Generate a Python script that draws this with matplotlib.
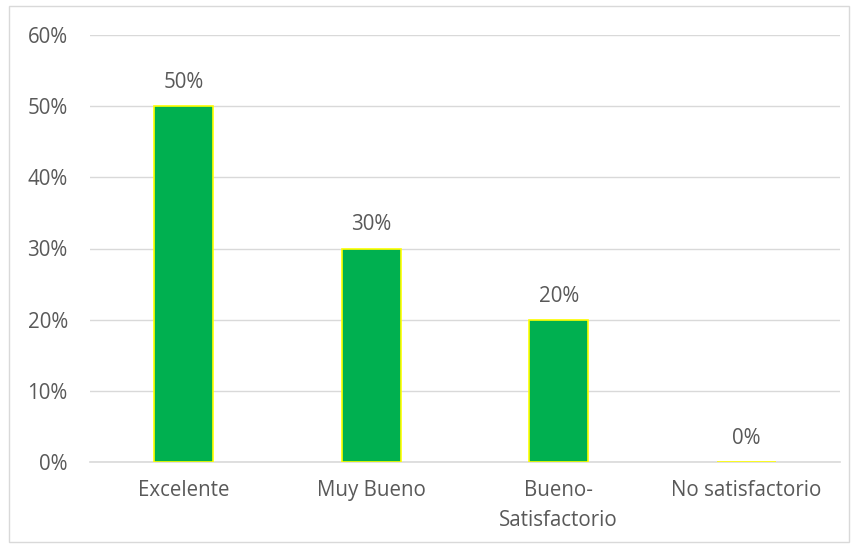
import matplotlib.pyplot as plt
from matplotlib.patches import Rectangle

categorias = ['Excelente', 'Muy Bueno', 'Bueno-\nSatisfactorio', 'No satisfactorio']
porcentajes = [50, 30, 20, 0]
ticks_y = [0, 10, 20, 30, 40, 50, 60]

plt.rcParams['font.family'] = ['Open Sans', 'DejaVu Sans']
gris = '#595959'
tam = 14.8

fig = plt.figure(figsize=(8.56, 5.48), dpi=100)
ax = fig.add_axes([90 / 856, 1 - 462 / 548, 750 / 856, 427 / 548])

x = list(range(len(categorias)))
ax.bar(x, porcentajes, width=0.315, color='#00B050', edgecolor='#FFFF00', linewidth=1.2, zorder=3)

for xi, v in zip(x, porcentajes):
    ax.annotate(f'{v}%', (xi, v), xytext=(0, 17), textcoords='offset points',
                ha='center', va='center', fontsize=tam, color=gris)

ax.set_xlim(-0.5, len(categorias) - 0.5)
ax.set_ylim(0, 60)
ax.set_yticks(ticks_y)
ax.set_yticklabels([f'{t}%' for t in ticks_y])
ax.set_xticks(x)
ax.set_xticklabels(categorias, linespacing=1.55)
ax.tick_params(axis='both', length=0, labelsize=tam, labelcolor=gris)
ax.tick_params(axis='y', pad=16)
ax.tick_params(axis='x', pad=13)
ax.grid(axis='y', color='#D9D9D9', linewidth=1, zorder=0)
for s in ['top', 'right', 'left']:
    ax.spines[s].set_visible(False)
ax.spines['bottom'].set_color('#D9D9D9')
ax.spines['bottom'].set_linewidth(1.2)

# borde del gráfico
fig.patches.append(Rectangle((9 / 856, 6 / 548), 840 / 856, 536 / 548, transform=fig.transFigure,
                             fill=False, edgecolor='#D9D9D9', linewidth=1))

fig.savefig('out.png', dpi=100)
